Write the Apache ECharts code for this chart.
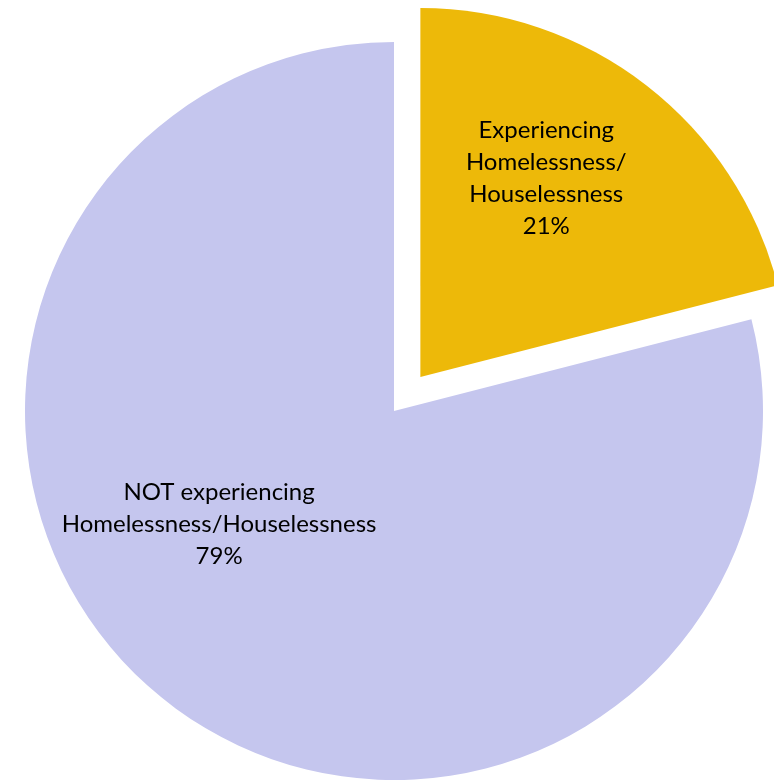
<!DOCTYPE html>
<html>
<head>
<meta charset="utf-8">
<script src="https://cdn.jsdelivr.net/npm/echarts@6/dist/echarts.min.js"></script>
<style>
html, body { margin: 0; padding: 0; background: #fff; }
#main { width: 774px; height: 781px; }
</style>
</head>
<body>
<div id="main"></div>
<script>
var names = ['Experiencing\nHomelessness/\nHouselessness', 'NOT experiencing\nHomelessness/Houselessness'];
var values = [21, 79];
var colors = ['#EDB909', '#C5C6EE'];
// label nudges from the default inside spot
var labelShift = [[11, -51], [-60, -35]];

var myChart = echarts.init(document.getElementById('main'));
var data = [];
for (var i = 0; i < names.length; i++) {
	data.push({
		name: names[i],
		value: values[i],
		selected: i == 0,
		itemStyle: { color: colors[i] }
	});
}
var option = {
	animation: false,
	series: [{
		type: 'pie',
		center: [394, 411],
		radius: [0, 369],
		startAngle: 90,
		clockwise: true,
		selectedMode: 'single',
		selectedOffset: 43,
		emphasis: { disabled: true },
		label: {
			show: true,
			position: 'inside',
			formatter: function (p) { return p.name + '\n' + p.value + '%'; },
			fontFamily: 'Lato',
			fontSize: 24,
			lineHeight: 32,
			color: '#000'
		},
		labelLayout: function (p) {
			var s = labelShift[p.dataIndex];
			return { dx: s[0], dy: s[1] };
		},
		labelLine: { show: false },
		data: data
	}]
};
myChart.setOption(option);
</script>
</body>
</html>
